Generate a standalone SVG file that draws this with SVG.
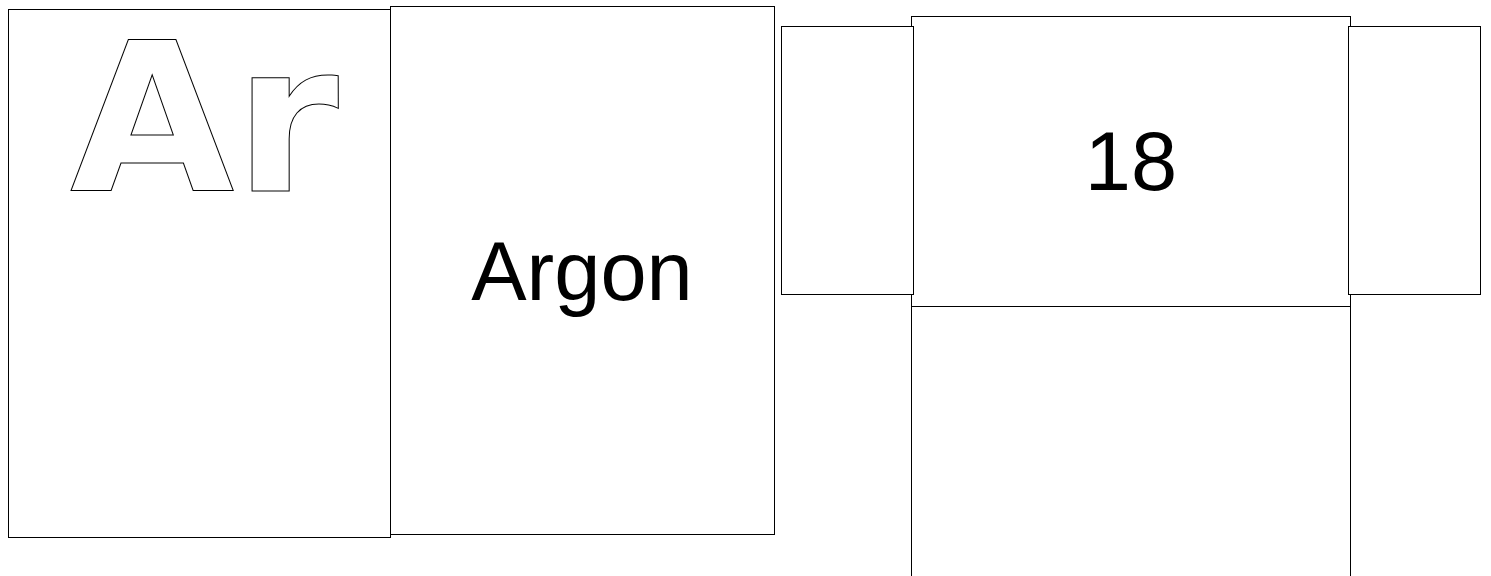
<svg xmlns="http://www.w3.org/2000/svg" width="1491" height="576" viewBox="0 0 1491 576">
<style>
.box{fill:#fff;stroke:#000;stroke-width:1}
.lbl{font-family:"Liberation Sans",Arial,sans-serif;font-size:83px;fill:#000;text-anchor:middle}
.sym{font-family:"DejaVu Sans",Verdana,sans-serif;font-weight:bold;font-size:207px;fill:#fff;stroke:#000;stroke-width:1}
</style>
<rect width="1491" height="576" fill="#fff"/>
<g id="symbol-card">
<rect class="box" x="8.5" y="9.5" width="382" height="528"/>
<text class="sym" transform="translate(70,191) scale(1.025,1)" x="0" y="0">Ar</text>
</g>
<g id="name-card">
<rect class="box" x="390.5" y="6.5" width="384" height="528"/>
<text class="lbl" x="582" y="300">Argon</text>
</g>
<g id="number-card">
<rect class="box" x="911.5" y="16.5" width="439" height="290"/>
<text class="lbl" x="1131" y="190">18</text>
</g>
<g id="bottom-panel">
<rect class="box" x="911.5" y="306.5" width="439" height="300"/>
</g>
<g id="left-flap">
<rect class="box" x="781.5" y="26.5" width="132" height="268"/>
</g>
<g id="right-flap">
<rect class="box" x="1348.5" y="26.5" width="132" height="268"/>
</g>
<g id="connectors"></g>
</svg>
